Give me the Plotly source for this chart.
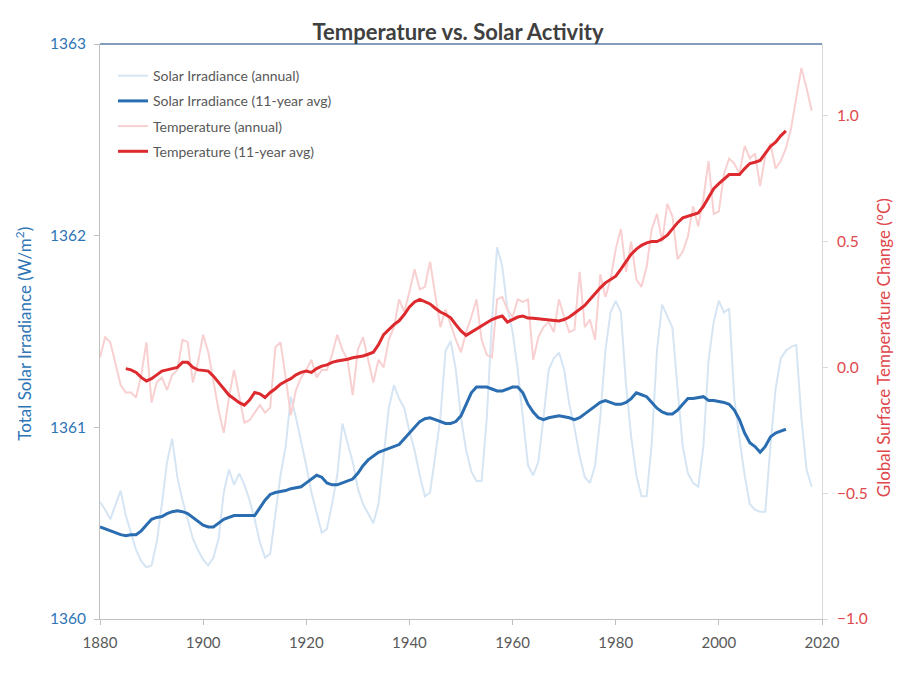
import plotly.graph_objects as go

years_annual = list(range(1880, 2019))
solar_annual = [
    1360.61, 1360.57, 1360.52, 1360.60, 1360.67, 1360.54, 1360.45, 1360.36, 1360.30, 1360.27,
    1360.28, 1360.40, 1360.60, 1360.82, 1360.94, 1360.74, 1360.62, 1360.52, 1360.42, 1360.36,
    1360.31, 1360.28, 1360.32, 1360.42, 1360.66, 1360.78, 1360.70, 1360.76, 1360.70, 1360.62,
    1360.52, 1360.40, 1360.32, 1360.34, 1360.55, 1360.75, 1360.90, 1361.16, 1361.05, 1360.93,
    1360.80, 1360.66, 1360.55, 1360.45, 1360.47, 1360.60, 1360.75, 1361.02, 1360.92, 1360.82,
    1360.68, 1360.60, 1360.55, 1360.50, 1360.60, 1360.85, 1361.10, 1361.22, 1361.15, 1361.10,
    1360.98, 1360.88, 1360.75, 1360.64, 1360.66, 1360.85, 1361.05, 1361.40, 1361.45, 1361.30,
    1361.05, 1360.88, 1360.77, 1360.72, 1360.72, 1361.05, 1361.55, 1361.94, 1361.84, 1361.62,
    1361.50, 1361.30, 1361.05, 1360.80, 1360.75, 1360.82, 1361.05, 1361.30, 1361.36, 1361.39,
    1361.30, 1361.12, 1361.00, 1360.85, 1360.74, 1360.71, 1360.80, 1361.05, 1361.40, 1361.60,
    1361.66, 1361.60, 1361.22, 1360.95, 1360.75, 1360.64, 1360.64, 1360.92, 1361.40, 1361.64,
    1361.58, 1361.52, 1361.20, 1360.90, 1360.76, 1360.71, 1360.69, 1360.90, 1361.35, 1361.55,
    1361.66, 1361.60, 1361.62, 1361.15, 1360.94, 1360.75, 1360.60, 1360.57, 1360.56, 1360.56,
    1360.90, 1361.20, 1361.36, 1361.40, 1361.42, 1361.43, 1361.05, 1360.78, 1360.69,
]

years_solar_avg = list(range(1880, 2014))
solar_avg = [
    1360.48, 1360.47, 1360.46, 1360.45, 1360.44, 1360.435, 1360.44, 1360.44, 1360.46, 1360.49,
    1360.52, 1360.53, 1360.535, 1360.55, 1360.56, 1360.565, 1360.56, 1360.55, 1360.53, 1360.51,
    1360.49, 1360.48, 1360.48, 1360.50, 1360.52, 1360.53, 1360.54, 1360.54, 1360.54, 1360.54,
    1360.54, 1360.58, 1360.62, 1360.65, 1360.66, 1360.665, 1360.67, 1360.68, 1360.685, 1360.69,
    1360.71, 1360.73, 1360.75, 1360.74, 1360.71, 1360.70, 1360.70, 1360.71, 1360.72, 1360.73,
    1360.76, 1360.80, 1360.83, 1360.85, 1360.87, 1360.88, 1360.89, 1360.90, 1360.91, 1360.94,
    1360.97, 1361.00, 1361.03, 1361.045, 1361.05, 1361.04, 1361.03, 1361.02, 1361.02, 1361.03,
    1361.06, 1361.12, 1361.18, 1361.21, 1361.21, 1361.21, 1361.20, 1361.19, 1361.19, 1361.20,
    1361.21, 1361.21, 1361.18, 1361.12, 1361.08, 1361.05, 1361.04, 1361.05, 1361.055, 1361.06,
    1361.055, 1361.05, 1361.04, 1361.05, 1361.07, 1361.09, 1361.11, 1361.13, 1361.14, 1361.13,
    1361.12, 1361.12, 1361.13, 1361.15, 1361.18, 1361.17, 1361.16, 1361.13, 1361.10, 1361.08,
    1361.07, 1361.07, 1361.09, 1361.12, 1361.15, 1361.15, 1361.155, 1361.16, 1361.14, 1361.14,
    1361.135, 1361.13, 1361.12, 1361.09, 1361.04, 1360.97, 1360.92, 1360.90, 1360.87, 1360.90,
    1360.95, 1360.97, 1360.98, 1360.99,
]

temp_annual = [
    0.04, 0.12, 0.10, 0.01, -0.07, -0.10, -0.10, -0.12, -0.03, 0.10,
    -0.14, -0.06, -0.04, -0.09, -0.03, -0.01, 0.11, 0.10, -0.06, 0.02,
    0.13, 0.06, -0.06, -0.17, -0.26, -0.12, -0.01, -0.12, -0.22, -0.21,
    -0.18, -0.15, -0.18, -0.16, 0.08, 0.10, -0.04, -0.19, -0.09, -0.04,
    -0.01, 0.03, -0.04, -0.01, -0.01, 0.05, 0.13, 0.07, 0.03, -0.11,
    0.07, 0.12, 0.03, -0.06, 0.03, 0.00, 0.11, 0.16, 0.27, 0.22,
    0.30, 0.39, 0.31, 0.32, 0.42, 0.28, 0.16, 0.23, 0.17, 0.11,
    0.06, 0.14, 0.20, 0.27, 0.11, 0.05, 0.04, 0.27, 0.28, 0.23,
    0.20, 0.27, 0.26, 0.27, 0.03, 0.12, 0.16, 0.18, 0.14, 0.27,
    0.20, 0.14, 0.15, 0.38, 0.16, 0.19, 0.11, 0.37, 0.28, 0.35,
    0.47, 0.55, 0.38, 0.50, 0.35, 0.32, 0.40, 0.55, 0.61, 0.50,
    0.65, 0.60, 0.43, 0.46, 0.52, 0.64, 0.56, 0.67, 0.82, 0.61,
    0.62, 0.77, 0.83, 0.81, 0.77, 0.88, 0.83, 0.85, 0.72, 0.84,
    0.89, 0.79, 0.82, 0.87, 0.95, 1.07, 1.19, 1.11, 1.02,
]

years_temp_avg = list(range(1885, 2014))
temp_avg = [
    -0.005, -0.01, -0.02, -0.04, -0.054,
    -0.045, -0.03, -0.015, -0.01, -0.005, 0.0, 0.02, 0.02, 0.0, -0.01,
    -0.012, -0.015, -0.035, -0.06, -0.085, -0.11, -0.125, -0.14, -0.15, -0.13,
    -0.10, -0.105, -0.12, -0.10, -0.085, -0.067, -0.055, -0.045, -0.03, -0.02,
    -0.015, -0.02, -0.005, 0.005, 0.01, 0.02, 0.025, 0.028, 0.032, 0.038,
    0.04, 0.045, 0.052, 0.06, 0.09, 0.13, 0.15, 0.17, 0.185, 0.21,
    0.24, 0.26, 0.27, 0.262, 0.252, 0.235, 0.22, 0.21, 0.197, 0.17,
    0.145, 0.127, 0.14, 0.152, 0.164, 0.18, 0.19, 0.198, 0.204, 0.18,
    0.19, 0.20, 0.204, 0.196, 0.195, 0.193, 0.19, 0.188, 0.185, 0.184,
    0.19, 0.20, 0.215, 0.23, 0.246, 0.27, 0.295, 0.316, 0.336, 0.35,
    0.362, 0.39, 0.42, 0.45, 0.47, 0.485, 0.495, 0.50, 0.50, 0.51,
    0.525, 0.55, 0.575, 0.594, 0.60, 0.608, 0.614, 0.64, 0.675, 0.71,
    0.73, 0.75, 0.766, 0.766, 0.766, 0.79, 0.81, 0.815, 0.822, 0.85,
    0.878, 0.895, 0.92, 0.94,
]

x_ticks = [1880, 1900, 1920, 1940, 1960, 1980, 2000, 2020]
left_ticks = [1360, 1361, 1362, 1363]
right_ticks = [-1.0, -0.5, 0.0, 0.5, 1.0]

FONT = "Lato, Carlito, Calibri, sans-serif"
BLUE_TXT = "#2e75b6"
RED_TXT = "#e0474c"

fig = go.Figure()
fig.add_trace(go.Scatter(x=years_annual, y=solar_annual, mode="lines",
                         name="Solar Irradiance (annual)", legendgroup="a",
                         line=dict(color="#d6e5f3", width=2), yaxis="y"))
fig.add_trace(go.Scatter(x=years_solar_avg, y=solar_avg, mode="lines",
                         name="Solar Irradiance (11-year avg)", legendgroup="b",
                         line=dict(color="#2a6db0", width=3), yaxis="y"))
fig.add_trace(go.Scatter(x=years_annual, y=temp_annual, mode="lines",
                         name="Temperature (annual)", legendgroup="c",
                         line=dict(color="#f9d0d1", width=2), yaxis="y2"))
fig.add_trace(go.Scatter(x=years_temp_avg, y=temp_avg, mode="lines",
                         name="Temperature (11-year avg)", legendgroup="d",
                         line=dict(color="#dd2a2e", width=3), yaxis="y2"))

fig.update_layout(
    width=888, height=680,
    margin=dict(l=92, r=74, t=36, b=69),
    paper_bgcolor="white", plot_bgcolor="white",
    font=dict(family=FONT, size=13, color="#595959"),
    title=dict(text="<b>Temperature vs. Solar Activity</b>", x=0.5068, xanchor="center",
               y=0.9647, yanchor="middle",
               font=dict(family=FONT, size=22, color="#404040")),
    showlegend=True,
    legend=dict(x=0.018, y=0.972, xanchor="left", yanchor="top",
                bgcolor="rgba(0,0,0,0)", font=dict(size=14, color="#595959"),
                tracegroupgap=4, itemwidth=30),
    xaxis=dict(range=[1880, 2020], tickvals=x_ticks, showgrid=False, zeroline=False,
               showline=True, linecolor="#bfbfbf", linewidth=1,
               ticks="outside", ticklen=5, tickcolor="#bfbfbf", ticklabelstandoff=5,
               tickfont=dict(size=15, color="#595959")),
    yaxis=dict(range=[1360, 1363], tickvals=left_ticks, showgrid=False, zeroline=False,
               showline=True, linecolor="#bfbfbf", linewidth=1,
               ticks="outside", ticklen=5, tickcolor="#bfbfbf", ticklabelstandoff=5,
               tickfont=dict(size=15.5, color=BLUE_TXT)),
    yaxis2=dict(range=[-1.0, 1.285], tickvals=right_ticks, tickformat=".1f",
                overlaying="y", side="right", showgrid=False, zeroline=False,
                showline=True, linecolor="#d9d9d9", linewidth=1,
                ticks="outside", ticklen=5, tickcolor="#d9d9d9", ticklabelstandoff=6,
                tickfont=dict(size=15.5, color=RED_TXT)),
)
fig.add_annotation(text="Total Solar Irradiance (W/m<sup>2</sup>)", textangle=-90,
                   xref="paper", yref="paper", x=-0.106, y=0.497,
                   xanchor="center", yanchor="middle", showarrow=False,
                   font=dict(family=FONT, size=17, color=BLUE_TXT))
fig.add_annotation(text="Global Surface Temperature Change (°C)", textangle=-90,
                   xref="paper", yref="paper", x=1.0845, y=0.471,
                   xanchor="center", yanchor="middle", showarrow=False,
                   font=dict(family=FONT, size=17, color=RED_TXT))
fig.add_shape(type="line", xref="paper", yref="paper", x0=0, x1=1, y0=1, y1=1,
              line=dict(color="#5a7da8", width=1.5))

fig.write_html("out.html")
